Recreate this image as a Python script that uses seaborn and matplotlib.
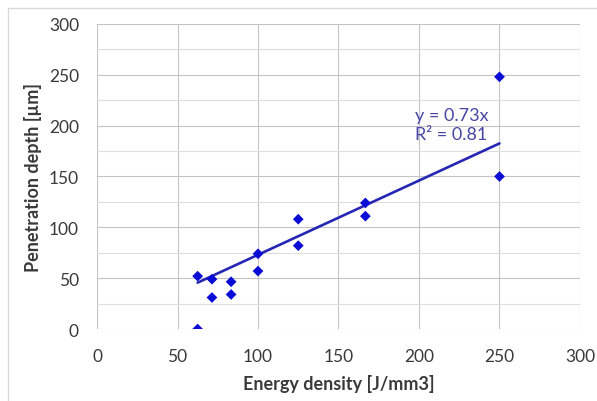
import numpy as np
import pandas as pd
import matplotlib
matplotlib.use("Agg")
import matplotlib.pyplot as plt
from matplotlib.lines import Line2D
import seaborn as sns

# Measured penetration depth versus volumetric energy density
energy_density = [62.5, 62.5, 71.4, 71.4, 83.3, 83.3, 100, 100,
                  125, 125, 166.7, 166.7, 250, 250]
penetration_depth = [52, 0, 49, 31, 46.5, 34, 74, 57,
                     108, 82, 124, 111, 248, 150]

# Linear fit through the origin, as reported
slope = 0.73
r_squared = 0.81

x_ticks = [0, 50, 100, 150, 200, 250, 300]
y_ticks = [0, 50, 100, 150, 200, 250, 300]
y_minor_ticks = [25, 75, 125, 175, 225, 275]

sns.set_theme(style="white")
plt.rcParams["font.family"] = ["Lato", "DejaVu Sans"]

df = pd.DataFrame({"energy": energy_density, "depth": penetration_depth})
fit_x = np.array([min(energy_density), max(energy_density)])
fit_df = pd.DataFrame({"energy": fit_x, "depth": slope * fit_x})

fig = plt.figure(figsize=(5.97, 4.02), dpi=100)
ax = fig.add_axes([0.1625, 0.179, 0.809, 0.759])

major_grid = "#c4c4c4"
minor_grid = "#dedede"
text_col = "#3a3a3a"

sns.lineplot(data=fit_df, x="energy", y="depth", ax=ax, color="#2626b4",
             linewidth=1.9, zorder=3)
sns.scatterplot(data=df, x="energy", y="depth", ax=ax, marker="D", s=30,
                color="#0b0bd6", edgecolor="none", linewidth=0, zorder=4)

ax.set_xlim(0, 300)
ax.set_ylim(0, 300)
ax.set_xticks(x_ticks)
ax.set_yticks(y_ticks)
ax.set_yticks(y_minor_ticks, minor=True)
ax.set_xticklabels([str(v) for v in x_ticks])
ax.set_yticklabels([str(v) for v in y_ticks])

for s in ax.spines.values():
    s.set_visible(False)

ax.grid(True, which="major", color=major_grid, linewidth=0.8, zorder=0)
ax.grid(True, which="minor", axis="y", color=minor_grid, linewidth=0.8, zorder=0)
ax.set_axisbelow(True)

ax.tick_params(axis="both", which="both", direction="out", length=4.5,
               width=0.8, color=major_grid, labelsize=12.5, labelcolor=text_col)
ax.tick_params(axis="y", which="minor", color=minor_grid)
ax.tick_params(axis="y", pad=8.5)
ax.tick_params(axis="x", pad=9.5)

ax.set_xlabel("Energy density [J/mm3]", fontsize=13, fontweight="bold",
              color=text_col)
ax.set_ylabel("Penetration depth [µm]", fontsize=13, fontweight="bold",
              color=text_col)
ax.xaxis.set_label_coords(0.5, -0.148)
ax.yaxis.set_label_coords(-0.114, 0.5)

ax.text(197.5, 201, f"y = {slope}x\nR² = {r_squared}", fontsize=13,
        color="#4646a6", ha="left", va="center", linespacing=1.2)

# Chart frame lines along the top and left edges
frame = "#d9d9d9"
fig.add_artist(Line2D([8 / 597, 1.0], [1 - 9 / 402, 1 - 9 / 402],
                      transform=fig.transFigure, color=frame, linewidth=1.0))
fig.add_artist(Line2D([8 / 597, 8 / 597], [0.0, 1 - 9 / 402],
                      transform=fig.transFigure, color=frame, linewidth=1.0))

fig.savefig("out.png", dpi=100)
